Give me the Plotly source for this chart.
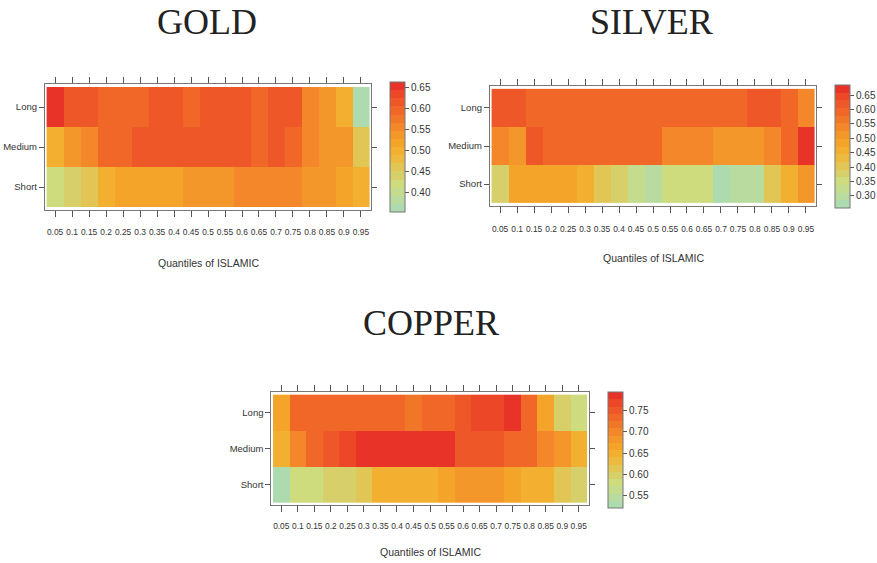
import plotly.graph_objects as go

# Quantile levels of ISLAMIC (x axis) and horizon rows (y axis)
quantiles = ["0.05", "0.1", "0.15", "0.2", "0.25", "0.3", "0.35", "0.4", "0.45", "0.5",
             "0.55", "0.6", "0.65", "0.7", "0.75", "0.8", "0.85", "0.9", "0.95"]
horizons = ["Short", "Medium", "Long"]

# GOLD
gold_long = [0.655, 0.618, 0.618, 0.600, 0.600, 0.600, 0.618, 0.618, 0.600, 0.618,
             0.618, 0.618, 0.600, 0.618, 0.618, 0.556, 0.540, 0.497, 0.370]
gold_medium = [0.497, 0.540, 0.553, 0.590, 0.600, 0.618, 0.618, 0.618, 0.618, 0.618,
               0.618, 0.618, 0.600, 0.618, 0.590, 0.556, 0.540, 0.540, 0.465]
gold_short = [0.416, 0.445, 0.465, 0.500, 0.515, 0.515, 0.515, 0.515, 0.530, 0.530,
              0.530, 0.553, 0.553, 0.553, 0.553, 0.537, 0.537, 0.515, 0.500]

# SILVER
silver_long = [0.620, 0.620, 0.600, 0.600, 0.600, 0.580, 0.580, 0.600, 0.600, 0.600,
               0.600, 0.600, 0.600, 0.600, 0.600, 0.620, 0.620, 0.600, 0.535]
silver_medium = [0.535, 0.515, 0.605, 0.580, 0.580, 0.580, 0.580, 0.580, 0.580, 0.580,
                 0.535, 0.535, 0.535, 0.500, 0.500, 0.500, 0.535, 0.600, 0.672]
silver_short = [0.390, 0.480, 0.480, 0.480, 0.480, 0.460, 0.400, 0.390, 0.335, 0.285,
                0.340, 0.340, 0.340, 0.280, 0.290, 0.290, 0.395, 0.460, 0.515]

# COPPER
copper_long = [0.670, 0.727, 0.735, 0.735, 0.735, 0.735, 0.735, 0.735, 0.720, 0.732,
               0.732, 0.750, 0.760, 0.760, 0.784, 0.740, 0.670, 0.605, 0.580]
copper_medium = [0.646, 0.700, 0.740, 0.755, 0.760, 0.782, 0.782, 0.785, 0.785, 0.785,
                 0.785, 0.758, 0.758, 0.750, 0.740, 0.728, 0.700, 0.690, 0.646]
copper_short = [0.536, 0.578, 0.578, 0.605, 0.605, 0.620, 0.646, 0.646, 0.650, 0.650,
                0.665, 0.675, 0.675, 0.675, 0.660, 0.650, 0.648, 0.610, 0.605]

# colour-key ranges and tick labels
gold_range = (0.354, 0.664)
silver_range = (0.258, 0.685)
copper_range = (0.522, 0.792)
gold_ticks = [0.40, 0.45, 0.50, 0.55, 0.60, 0.65]
silver_ticks = [0.30, 0.35, 0.40, 0.45, 0.50, 0.55, 0.60, 0.65]
copper_ticks = [0.55, 0.60, 0.65, 0.70, 0.75]

W, H = 877, 563

# green -> yellow -> orange -> red ramp, cut into discrete bands
ramp = [(0.00, "#a8d9b9"), (0.12, "#bfdc98"), (0.22, "#cfdc7e"), (0.32, "#dcc95e"),
        (0.42, "#efb83a"), (0.50, "#f6aa2a"), (0.60, "#f4962a"), (0.70, "#f27c28"),
        (0.80, "#ef6228"), (0.90, "#ec4a28"), (1.00, "#e6292a")]


def hex2rgb(h):
    h = h.lstrip("#")
    return tuple(int(h[i:i + 2], 16) for i in (0, 2, 4))


def ramp_color(t):
    for (p0, c0), (p1, c1) in zip(ramp[:-1], ramp[1:]):
        if p0 <= t <= p1:
            f = 0 if p1 == p0 else (t - p0) / (p1 - p0)
            a, b = hex2rgb(c0), hex2rgb(c1)
            r = [round(a[k] + (b[k] - a[k]) * f) for k in range(3)]
            return "rgb(%d,%d,%d)" % tuple(r)
    return ramp[-1][1]


def banded(n=16):
    scale = []
    for i in range(n):
        c = ramp_color((i + 0.5) / n)
        scale.append([i / n, c])
        scale.append([(i + 1) / n, c])
    return scale


colorscale = banded(16)

SANS = "Liberation Sans, Arial, sans-serif"
xtick_font = dict(family=SANS, size=8.4, color="#333333")
ytick_font = dict(family=SANS, size=9.5, color="#333333")
cbar_font = dict(family=SANS, size=10, color="#333333")
xtitle_font = dict(family=SANS, size=10.5, color="#333333")
title_font = dict(family="Liberation Serif, Times New Roman, serif", size=36, color="#222222")


def px_x(v):
    return v / W


def px_y(v):
    return 1 - v / H


panels = [
    # name, rows, range, ticks, frame (left, right, top, bottom), colour-bar (left, top, bottom),
    # x-title centre y, label standoff, panel-title centre
    ("GOLD", [gold_short, gold_medium, gold_long], gold_range, gold_ticks,
     (45, 372, 84, 210), (391, 82, 212), 263, 8, (207, 22)),
    ("SILVER", [silver_short, silver_medium, silver_long], silver_range, silver_ticks,
     (491, 818, 86, 206), (837, 85, 208), 258, 9, (653, 22)),
    ("COPPER", [copper_short, copper_medium, copper_long], copper_range, copper_ticks,
     (272, 590, 392, 505), (609, 392, 508), 552, 7, (432, 323)),
]

fig = go.Figure()
annotations = []
layout_axes = {}

for i, (name, rows, zr, cticks, frame, cb, xt_y, standoff, title_pos) in enumerate(panels, start=1):
    xa = "x" if i == 1 else "x%d" % i
    ya = "y" if i == 1 else "y%d" % i
    l, r, t, b = frame
    cl, ct, cbot = cb
    fig.add_trace(go.Heatmap(
        z=rows,
        x=list(range(len(quantiles))),
        y=list(range(len(horizons))),
        xaxis=xa, yaxis=ya,
        zmin=zr[0], zmax=zr[1],
        colorscale=colorscale,
        xgap=0, ygap=0,
        hoverongaps=False,
        colorbar=dict(
            x=px_x(cl), xanchor="left", xpad=0,
            y=px_y((ct + cbot) / 2), yanchor="middle", ypad=0,
            len=cbot - ct, lenmode="pixels",
            thickness=15, thicknessmode="pixels",
            outlinewidth=1, outlinecolor="#777777",
            tickvals=cticks, ticktext=["%.2f" % v for v in cticks],
            ticks="outside", ticklen=4, tickcolor="#555555",
            tickfont=cbar_font,
        ),
    ))
    xkey = "xaxis" if i == 1 else "xaxis%d" % i
    ykey = "yaxis" if i == 1 else "yaxis%d" % i
    layout_axes[xkey] = dict(
        domain=[px_x(l), px_x(r)], anchor=ya,
        range=[-0.6, len(quantiles) - 0.4],
        tickvals=list(range(len(quantiles))), ticktext=quantiles,
        ticks="outside", ticklen=6, tickcolor="#555555",
        ticklabelstandoff=standoff,
        showline=True, linecolor="#777777", linewidth=1, mirror="ticks",
        showgrid=False, zeroline=False, tickfont=xtick_font, tickangle=0,
        fixedrange=True,
    )
    layout_axes[ykey] = dict(
        domain=[px_y(b), px_y(t)], anchor=xa,
        range=[-0.575, len(horizons) - 0.425],
        tickvals=list(range(len(horizons))), ticktext=horizons,
        ticks="outside", ticklen=5, tickcolor="#555555",
        showline=True, linecolor="#777777", linewidth=1, mirror="ticks",
        showgrid=False, zeroline=False, tickfont=ytick_font,
        fixedrange=True,
    )
    annotations.append(dict(
        text="Quantiles of ISLAMIC", xref="paper", yref="paper",
        x=px_x((l + r) / 2), y=px_y(xt_y), xanchor="center", yanchor="middle",
        showarrow=False, font=xtitle_font,
    ))
    annotations.append(dict(
        text=name, xref="paper", yref="paper",
        x=px_x(title_pos[0]), y=px_y(title_pos[1]), xanchor="center", yanchor="middle",
        showarrow=False, font=title_font,
    ))

fig.update_layout(
    width=W, height=H,
    margin=dict(l=0, r=0, t=0, b=0),
    paper_bgcolor="white", plot_bgcolor="white",
    showlegend=False,
    annotations=annotations,
    **layout_axes,
)

fig.write_html("out.html")
